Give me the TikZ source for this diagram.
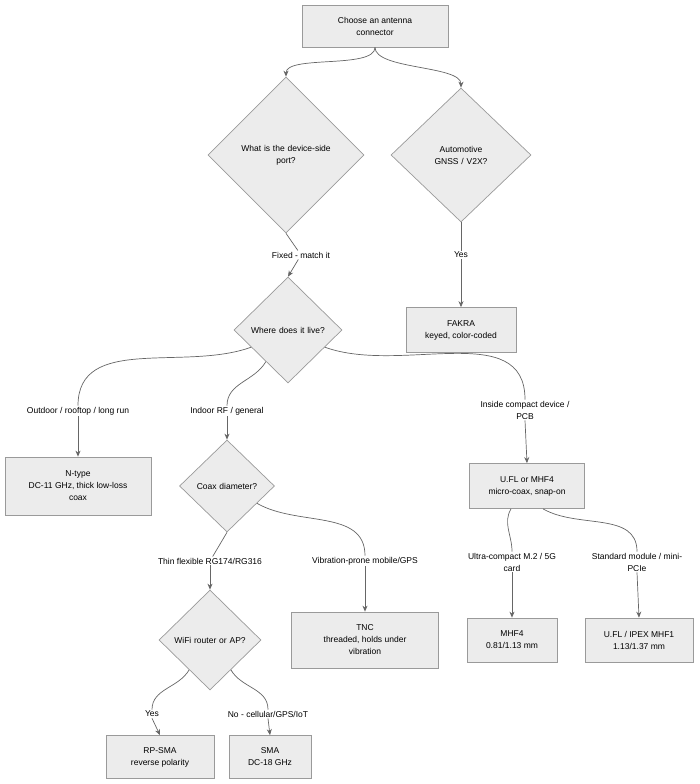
\documentclass[tikz,border=0pt]{standalone}
\usepackage{fontspec}
\setmainfont{Liberation Sans}
\usetikzlibrary{positioning,shapes.geometric,arrows.meta}
\definecolor{boxfill}{HTML}{ECECEC}
\definecolor{boxline}{HTML}{9A9A9A}
\definecolor{edgeline}{HTML}{666666}
\tikzset{
  stepbox/.style={draw=boxline,fill=boxfill,align=center,inner sep=0pt},
  choice/.style={diamond,draw=boxline,fill=boxfill,align=center,inner sep=0pt,aspect=1},
  lbl/.style={fill=white,align=center,inner sep=1pt},
  arr/.style={draw=edgeline,-{Stealth[length=6pt,width=5pt]}},
  ln/.style={draw=edgeline}
}
\begin{document}
\begin{tikzpicture}[x=1pt,y=-1pt,line width=0.7pt,font=\fontsize{8.5}{12}\selectfont]
\useasboundingbox (0,0) rectangle (700,784);
% nodes
\node[stepbox,minimum width=146pt,minimum height=42pt] (start) at (375,26) {Choose an antenna\\connector};
\node[choice,minimum width=156pt,minimum height=156pt,text width=90pt] (port) at (286,155) {What is the device-side\\port?};
\node[choice,minimum width=140pt,minimum height=134pt,text width=90pt] (auto) at (461,155) {Automotive GNSS / V2X?};
\node[lbl] (fixed) at (301,255) {Fixed - match it};
\node[lbl] (yes1) at (461,255) {Yes};
\node[choice,minimum width=108pt,minimum height=106pt,text width=80pt] (live) at (288,330) {Where does it live?};
\node[stepbox,minimum width=110pt,minimum height=45pt] (fakra) at (461,330) {FAKRA\\keyed, color-coded};
\node[lbl] (outdoor) at (78,411) {Outdoor / rooftop / long run};
\node[lbl] (indoor) at (227,411) {Indoor RF / general};
\node[lbl] (inside) at (525,410) {Inside compact device /\\PCB};
\node[stepbox,minimum width=146pt,minimum height=58pt] (ntype) at (78,486) {N-type\\DC-11 GHz, thick low-loss\\coax};
\node[choice,minimum width=95pt,minimum height=92pt,text width=70pt] (coax) at (227,486) {Coax diameter?};
\node[stepbox,minimum width=115pt,minimum height=45pt] (ufl) at (527,486) {U.FL or MHF4\\micro-coax, snap-on};
\node[lbl] (thin) at (210,561) {Thin flexible RG174/RG316};
\node[lbl] (vib) at (365,561) {Vibration-prone mobile/GPS};
\node[lbl] (ultra) at (512,562) {Ultra-compact M.2 / 5G\\card};
\node[lbl] (std) at (637,562) {Standard module / mini-\\PCIe};
\node[choice,minimum width=102pt,minimum height=100pt,text width=80pt] (wifi) at (210,640) {WiFi router or AP?};
\node[stepbox,minimum width=147pt,minimum height=56pt] (tnc) at (365,640) {TNC\\threaded, holds under\\vibration};
\node[stepbox,minimum width=90pt,minimum height=44pt] (mhf4) at (512,640) {MHF4\\0.81/1.13 mm};
\node[stepbox,minimum width=108pt,minimum height=44pt] (mhf1) at (639,640) {U.FL / IPEX MHF1\\1.13/1.37 mm};
\node[lbl] (yes2) at (152,714) {Yes};
\node[lbl] (no) at (268,714) {No - cellular/GPS/IoT};
\node[stepbox,minimum width=108pt,minimum height=43pt] (rpsma) at (160,757) {RP-SMA\\reverse polarity};
\node[stepbox,minimum width=82pt,minimum height=43pt] (sma) at (270,757) {SMA\\DC-18 GHz};
% connectors
\draw[arr] (start.south) to[out=270,in=90,looseness=0.6] (port.north);
\draw[arr] (start.south) to[out=270,in=90,looseness=0.6] (auto.north);
\draw[ln] (port.south) -- (fixed);
\draw[arr] (fixed) -- (live.north);
\draw[ln] (auto.south) -- (yes1);
\draw[arr] (yes1) -- (fakra.north);
\draw[ln] (live.205) to[out=200,in=90] (outdoor.north);
\draw[arr] (outdoor.south) -- (ntype.north);
\draw[ln] (live.235) to[out=240,in=90] (indoor.north);
\draw[arr] (indoor.south) -- (coax.north);
\draw[ln] (live.335) to[out=-20,in=90] (inside.north);
\draw[arr] (inside.south) -- (ufl.north);
\draw[ln] (coax.south) -- (thin);
\draw[arr] (thin) -- (wifi.north);
\draw[ln] (coax.330) to[out=-30,in=90] (vib.north);
\draw[arr] (vib.south) -- (tnc.north);
\draw[ln] (ufl.235) to[out=240,in=90] (ultra.north);
\draw[arr] (ultra.south) -- (mhf4.north);
\draw[ln] (ufl.305) to[out=-30,in=90] (std.north);
\draw[arr] (std.south) -- (mhf1.north);
\draw[ln] (wifi.235) to[out=240,in=90] (yes2.north);
\draw[arr] (yes2.south) -- (rpsma.north);
\draw[ln] (wifi.305) to[out=-60,in=90] (no.north);
\draw[arr] (no.south) -- (sma.north);
\end{tikzpicture}
\end{document}
